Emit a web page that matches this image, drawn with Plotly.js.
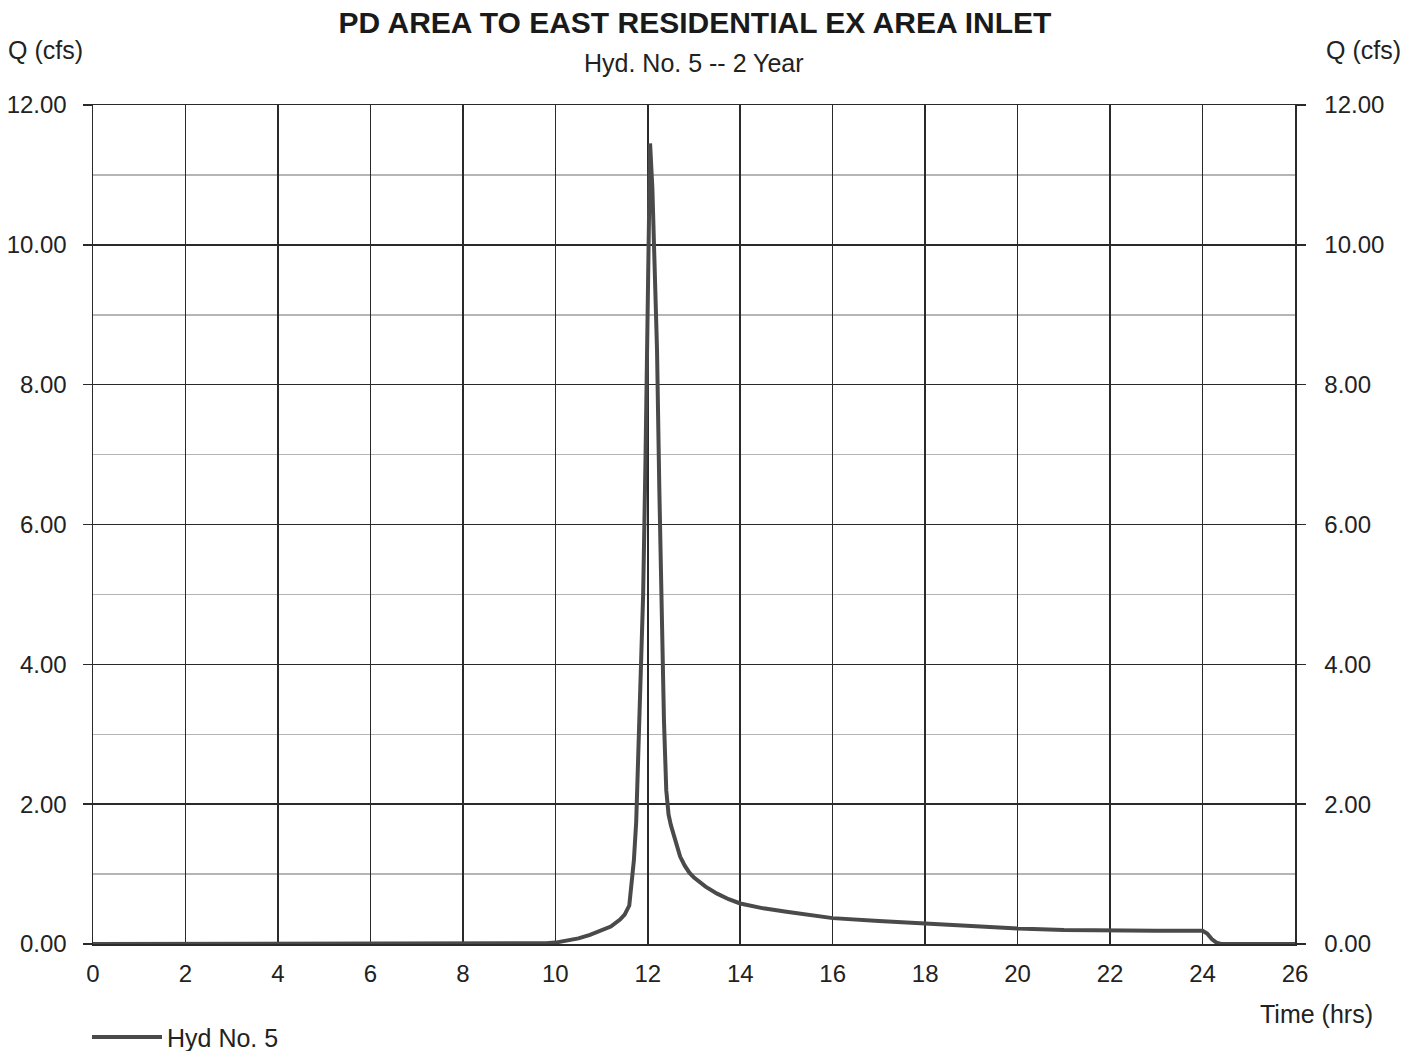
<!DOCTYPE html>
<html>
<head>
<meta charset="utf-8">
<script src="https://cdn.plot.ly/plotly-3.0.1.min.js"></script>
<style>html,body{margin:0;padding:0;background:#fff;}#chart{width:1417px;height:1051px;}</style>
</head>
<body>
<div id="chart"></div>
<script>
// Hydrograph data (time in hours, Q in cfs)
const timeHrs = [0, 9.0, 9.5, 9.8, 10.0, 10.3, 10.5, 10.75, 11.0, 11.2, 11.4, 11.5, 11.6, 11.65, 11.7, 11.75, 11.8, 11.85, 11.9, 11.95, 12.0, 12.05, 12.1, 12.15, 12.2, 12.25, 12.3, 12.35, 12.4, 12.45, 12.5, 12.6, 12.7, 12.8, 12.9, 13.0, 13.25, 13.5, 13.75, 14.0, 14.5, 15.0, 15.5, 16.0, 17.0, 18.0, 19.0, 20.0, 21.0, 22.0, 23.0, 24.0, 24.1, 24.2, 24.3, 24.4, 25.0, 26.0];
const flowCfs = [0, 0, 0.005, 0.01, 0.02, 0.05, 0.08, 0.13, 0.19, 0.25, 0.35, 0.42, 0.55, 0.85, 1.2, 1.75, 2.7, 3.8, 5.0, 6.9, 9.4, 11.45, 10.8, 9.6, 8.5, 6.5, 4.6, 3.2, 2.2, 1.85, 1.7, 1.45, 1.25, 1.12, 1.02, 0.95, 0.82, 0.72, 0.64, 0.58, 0.51, 0.46, 0.41, 0.37, 0.33, 0.29, 0.25, 0.22, 0.2, 0.19, 0.19, 0.19, 0.15, 0.07, 0.02, 0.0, 0.0, 0.0];
const seriesName = "Hyd No. 5";
const chartTitle = "PD AREA TO EAST RESIDENTIAL EX AREA INLET";
const chartSubtitle = "Hyd. No. 5 -- 2 Year";
const yLabel = "Q (cfs)";
const xLabel = "Time (hrs)";

const FONT = "Arial, 'Liberation Sans', sans-serif";
const DARK = "#2a2a2a";

const traces = [
  {
    x: timeHrs, y: flowCfs, type: "scatter", mode: "lines", name: seriesName,
    line: {color: "#4a4a4a", width: 4}, xaxis: "x", yaxis: "y"
  },
  {
    x: timeHrs, y: flowCfs, type: "scatter", mode: "lines", showlegend: false,
    hoverinfo: "skip", line: {color: "rgba(0,0,0,0)", width: 0}, xaxis: "x", yaxis: "y2"
  }
];

const yCommon = {
  range: [0, 12], dtick: 2, tick0: 0, tickformat: ".2f",
  ticks: "outside", ticklen: 9, tickcolor: DARK, tickwidth: 1.5,
  tickfont: {family: FONT, size: 24, color: "#222"},
  fixedrange: true, automargin: false
};

const layout = {
  width: 1417, height: 1051,
  paper_bgcolor: "#ffffff", plot_bgcolor: "#ffffff",
  margin: {l: 93, r: 122, t: 105, b: 107, pad: 0, autoexpand: false},
  showlegend: true,
  legend: {
    x: -0.005, xanchor: "left", y: -0.111, yanchor: "middle", orientation: "h",
    itemwidth: 70,
    font: {family: FONT, size: 25, color: "#222"}, bgcolor: "rgba(0,0,0,0)"
  },
  xaxis: {
    range: [0, 26], dtick: 2, tick0: 0, ticks: "", showgrid: true,
    gridcolor: DARK, gridwidth: 1.5, zeroline: false,
    showline: true, linecolor: DARK, linewidth: 1.5, mirror: true,
    tickfont: {family: FONT, size: 24, color: "#222"}, ticklabelstandoff: 8,
    fixedrange: true, automargin: false
  },
  yaxis: Object.assign({}, yCommon, {
    side: "left", showgrid: true, gridcolor: DARK, gridwidth: 1.5, zeroline: false,
    showline: true, linecolor: DARK, linewidth: 1.5,
    minor: {dtick: 1, showgrid: true, gridcolor: "#b5b5b5", gridwidth: 1.5},
    ticklabelstandoff: 11
  }),
  yaxis2: Object.assign({}, yCommon, {
    side: "right", overlaying: "y", showgrid: false, zeroline: false,
    showline: true, linecolor: DARK, linewidth: 1.5, ticklabelstandoff: 14
  }),
  title: {
    text: "<b>" + chartTitle + "</b>",
    x: 0.4905, xanchor: "center", y: 0.979, yanchor: "middle",
    font: {family: FONT, size: 30, color: "#1a1a1a"}
  },
  annotations: [
    {text: chartSubtitle, xref: "paper", yref: "paper", x: 0.5, y: 1.05, xanchor: "center", yanchor: "middle",
     showarrow: false, font: {family: FONT, size: 25, color: "#222"}},
    {text: yLabel, xref: "paper", yref: "paper", x: -0.072, y: 1.066, xanchor: "left", yanchor: "middle",
     showarrow: false, font: {family: FONT, size: 25, color: "#222"}},
    {text: yLabel, xref: "paper", yref: "paper", x: 1.024, y: 1.066, xanchor: "left", yanchor: "middle",
     showarrow: false, font: {family: FONT, size: 25, color: "#222"}},
    {text: xLabel, xref: "paper", yref: "paper", x: 1.0666, y: -0.0834, xanchor: "right", yanchor: "middle",
     showarrow: false, font: {family: FONT, size: 25, color: "#222"}}
  ]
};

Plotly.newPlot("chart", traces, layout, {displayModeBar: false, staticPlot: true});
</script>
</body>
</html>
